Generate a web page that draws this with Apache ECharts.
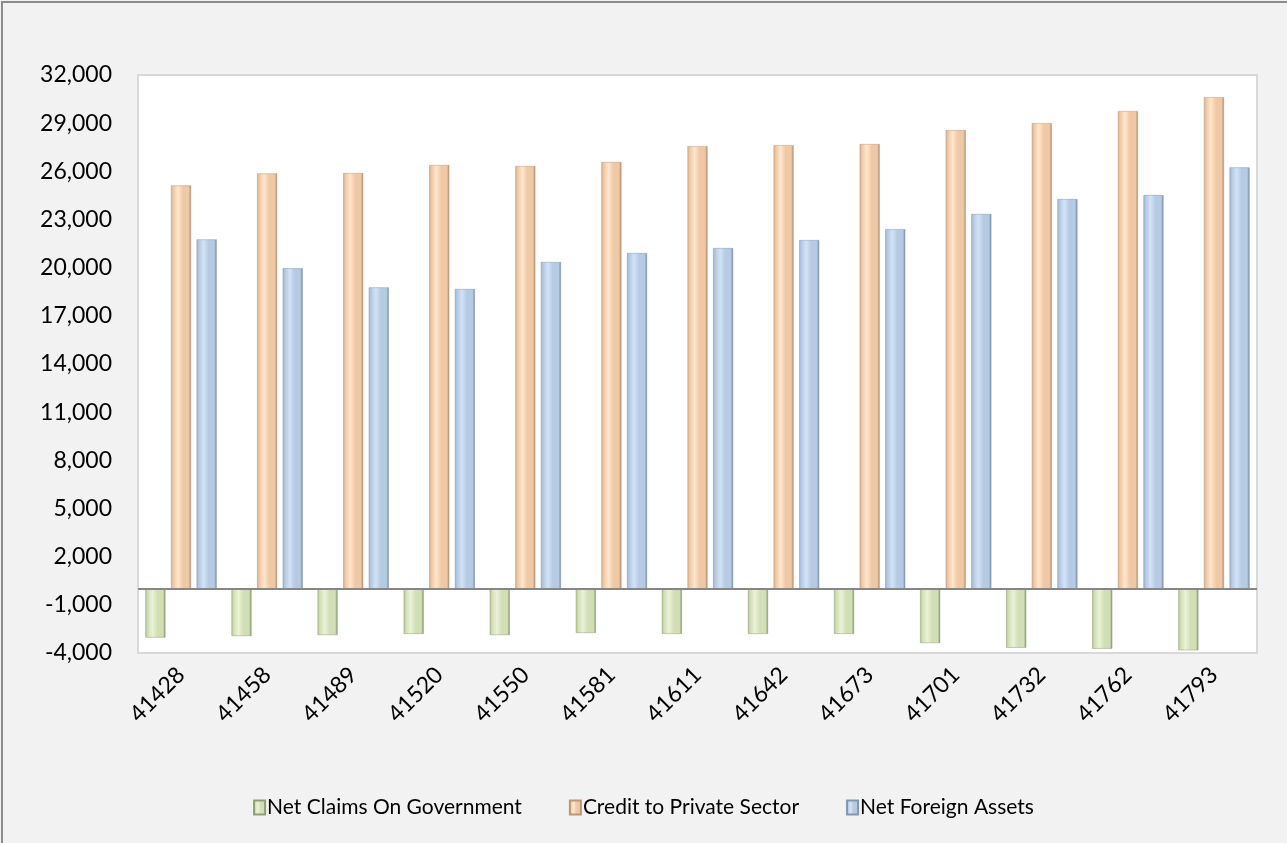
<!DOCTYPE html>
<html>
<head>
<meta charset="utf-8">
<script src="https://cdn.jsdelivr.net/npm/echarts@6/dist/echarts.min.js"></script>
<style>
html,body{margin:0;padding:0;background:#f2f2f2;}
#chart{width:1287px;height:843px;}
</style>
</head>
<body>
<div id="chart"></div>
<script>
const categories = ['41428','41458','41489','41520','41550','41581','41611','41642','41673','41701','41732','41762','41793'];
const netClaimsOnGovernment = [-3040,-2940,-2880,-2810,-2880,-2750,-2810,-2810,-2810,-3380,-3670,-3730,-3830];
const creditToPrivateSector = [25120,25870,25890,26390,26330,26580,27570,27630,27700,28570,29000,29750,30620];
const netForeignAssets = [21760,19960,18770,18670,20350,20910,21220,21720,22400,23340,24270,24520,26245];
const seriesNames = ['Net Claims On Government','Credit to Private Sector','Net Foreign Assets'];

function grad(dark, light, mid, edge){
  return new echarts.graphic.LinearGradient(0,0,1,0,[
    {offset:0, color:dark},
    {offset:0.12, color:mid},
    {offset:0.35, color:light},
    {offset:0.6, color:mid},
    {offset:0.88, color:mid},
    {offset:1, color:edge}
  ]);
}
const greenFill = grad('#b4c496','#eaf2d8','#d2dfb6','#7f8f66');
const orangeFill = grad('#d6b08e','#ffe6cc','#efc9a6','#a7876c');
const blueFill = grad('#9fb4cf','#d3e3f6','#b6cae3','#75869c');

const chart = echarts.init(document.getElementById('chart'));
const font = 'Lato, "Open Sans", sans-serif';
chart.setOption({
  backgroundColor:'#f2f2f2',
  animation:false,
  textStyle:{fontFamily:font},
  graphic:[{
    type:'rect', shape:{x:2,y:2,width:1400,height:1000},
    style:{fill:null, stroke:'#8c8c8c', lineWidth:2}, silent:true, z:100
  }],
  legend:{
    bottom:20, left:'center', icon:'rect',
    itemWidth:11, itemHeight:14, itemGap:47,
    textStyle:{fontSize:21, color:'#000', fontFamily:font, padding:[0,0,0,-3]},
    data:seriesNames
  },
  grid:{left:138, top:75, right:30, bottom:190, show:true, backgroundColor:'#fff', borderColor:'#d9d9d9', borderWidth:2, containLabel:false},
  xAxis:{
    type:'category', data:categories,
    axisLine:{show:false}, axisTick:{show:false},
    axisLabel:{rotate:45, fontSize:23, color:'#000', margin:18, fontFamily:font}
  },
  yAxis:{
    type:'value', min:-4000, max:32000, interval:3000,
    splitLine:{show:false}, axisLine:{show:false}, axisTick:{show:false},
    axisLabel:{fontSize:23, color:'#000', margin:26, fontFamily:font}
  },
  series:[
    {name:seriesNames[0], type:'bar', data:netClaimsOnGovernment, barWidth:20, barGap:'28%',
      itemStyle:{color:greenFill, borderColor:'#8f9f75', borderWidth:0.5},
      markLine:{silent:true, symbol:'none', label:{show:false}, lineStyle:{color:'#868686', width:2, type:'solid'}, data:[{yAxis:0}]}},
    {name:seriesNames[1], type:'bar', data:creditToPrivateSector, barWidth:20, barGap:'28%',
      itemStyle:{color:orangeFill, borderColor:'#b89878', borderWidth:0.5}},
    {name:seriesNames[2], type:'bar', data:netForeignAssets, barWidth:20, barGap:'28%',
      itemStyle:{color:blueFill, borderColor:'#8597ad', borderWidth:0.5}}
  ]
});
</script>
</body>
</html>
